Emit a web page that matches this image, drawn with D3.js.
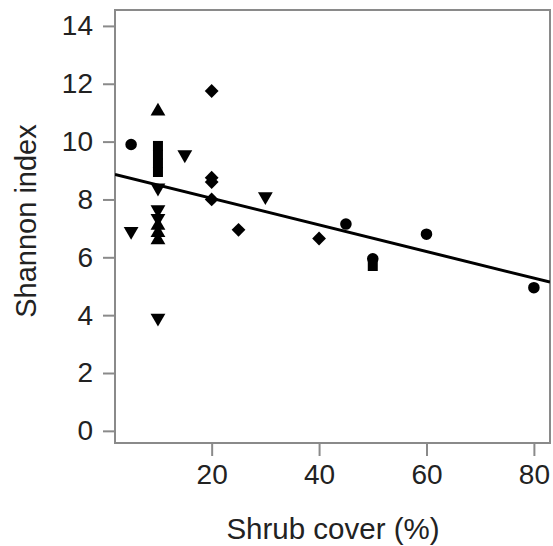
<!DOCTYPE html>
<html>
<head>
<meta charset="utf-8">
<script src="https://cdn.jsdelivr.net/npm/d3@7"></script>
<style>
  html, body { margin: 0; padding: 0; background: #fff; }
  svg { display: block; }
  text { font-family: "Liberation Sans", Arial, Helvetica, sans-serif; fill: #222; }
</style>
</head>
<body>
<svg id="chart" width="553" height="546"></svg>
<script>
// ---- data ----
const circleX = [5, 45, 50, 60, 80];
const circleY = [9.9, 7.15, 5.95, 6.8, 4.95];

const squareX = [10, 10, 10, 10, 50];
const squareY = [9.85, 9.55, 9.25, 8.95, 5.7];

const triUpX = [10, 10, 10, 10];
const triUpY = [11.05, 7.1, 6.85, 6.6];

const triDownX = [5, 10, 10, 10, 10, 15, 30];
const triDownY = [6.9, 8.4, 7.65, 7.35, 3.9, 9.55, 8.1];

const diamondX = [20, 20, 20, 20, 25, 40];
const diamondY = [11.75, 8.75, 8.6, 8.0, 6.95, 6.65];

const fitIntercept = 8.96;
const fitSlope = -0.046;

const xTicks = [20, 40, 60, 80];
const yTicks = [0, 2, 4, 6, 8, 10, 12, 14];
const xTitle = "Shrub cover (%)";
const yTitle = "Shannon index";

// ---- layout ----
const svg = d3.select("#chart");
const pL = 115, pR = 550, pT = 10, pB = 443;
const x = d3.scaleLinear().domain([2, 83]).range([pL, pR]);
const y = d3.scaleLinear().domain([-0.42, 14.55]).range([pB, pT]);
const axisColor = "#8a8a8a";

// clip
svg.append("clipPath").attr("id", "plotclip")
  .append("rect").attr("x", pL).attr("y", pT)
  .attr("width", pR - pL).attr("height", pB - pT);

// box
svg.append("rect")
  .attr("x", pL).attr("y", pT)
  .attr("width", pR - pL).attr("height", pB - pT)
  .attr("fill", "none").attr("stroke", axisColor).attr("stroke-width", 2);

// axes
const xAxis = d3.axisBottom(x).tickValues(xTicks).tickSize(13).tickPadding(8);
const gx = svg.append("g").attr("transform", `translate(0,${pB})`).call(xAxis);
gx.select(".domain").remove();
gx.selectAll(".tick line").attr("stroke", axisColor).attr("stroke-width", 2);
gx.selectAll(".tick text").attr("font-size", 28).attr("fill", "#222")
  .style("font-family", '"Liberation Sans", Arial, sans-serif');

const yAxis = d3.axisLeft(y).tickValues(yTicks).tickSize(12).tickPadding(10);
const gy = svg.append("g").attr("transform", `translate(${pL},0)`).call(yAxis);
gy.select(".domain").remove();
gy.selectAll(".tick line").attr("stroke", axisColor).attr("stroke-width", 2);
gy.selectAll(".tick text").attr("font-size", 28).attr("fill", "#222")
  .style("font-family", '"Liberation Sans", Arial, sans-serif');

// titles
svg.append("text")
  .attr("x", 333).attr("y", 539)
  .attr("text-anchor", "middle").attr("font-size", 29.5)
  .text(xTitle);
svg.append("text")
  .attr("transform", `translate(36,221) rotate(-90)`)
  .attr("text-anchor", "middle").attr("font-size", 29)
  .text(yTitle);

// regression line
const xd = x.domain();
svg.append("line")
  .attr("clip-path", "url(#plotclip)")
  .attr("x1", x(xd[0])).attr("y1", y(fitIntercept + fitSlope * xd[0]))
  .attr("x2", x(xd[1])).attr("y2", y(fitIntercept + fitSlope * xd[1]))
  .attr("stroke", "#000").attr("stroke-width", 3);

// points
function drawPoints(xs, ys, type, size, rot) {
  const pts = xs.map((v, i) => [v, ys[i]]);
  const sym = d3.symbol().type(type).size(size);
  svg.append("g").selectAll("path").data(pts).join("path")
    .attr("d", sym)
    .attr("transform", d => `translate(${x(d[0])},${y(d[1])}) rotate(${rot})`)
    .attr("fill", "#000");
}
drawPoints(circleX, circleY, d3.symbolCircle, 105, 0);
drawPoints(squareX, squareY, d3.symbolSquare, 100, 0);
drawPoints(triUpX, triUpY, d3.symbolTriangle, 95, 0);
drawPoints(triDownX, triDownY, d3.symbolTriangle, 95, 180);
drawPoints(diamondX, diamondY, d3.symbolSquare, 95, 45);
</script>
</body>
</html>
